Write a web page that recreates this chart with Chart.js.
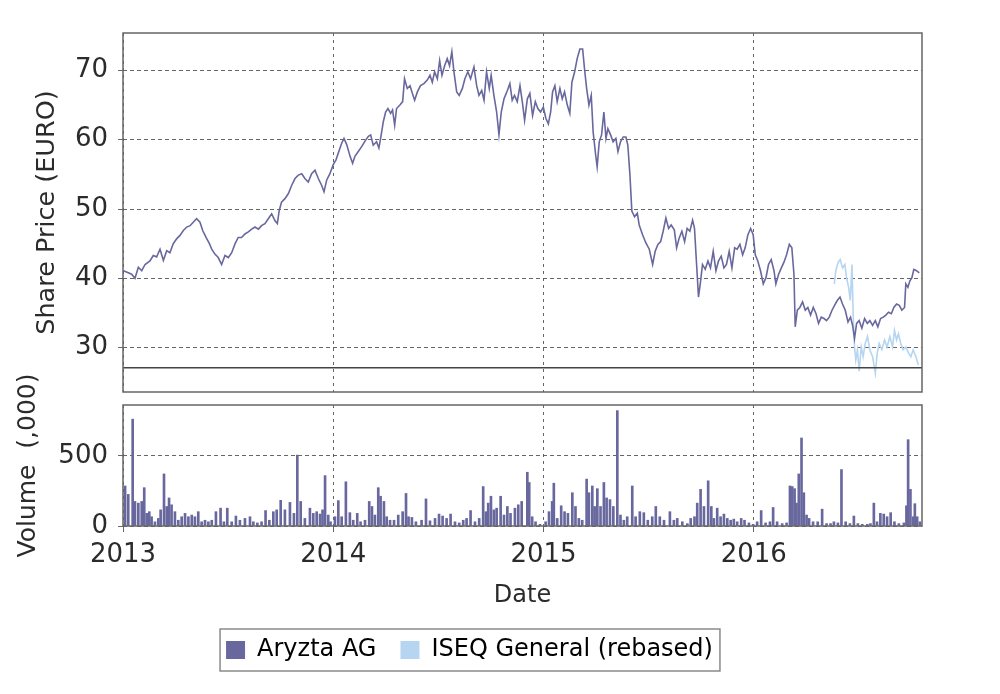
<!doctype html>
<html lang="en">
<head>
<meta charset="utf-8">
<title>Aryzta AG share price and volume</title>
<script src="https://cdn.jsdelivr.net/npm/chart.js"></script>
<style>
  body { margin: 0; background: #fff; }
  #wrap { position: relative; width: 1000px; height: 694px; }
  #wrap canvas { position: absolute; left: 0; }
  #priceChart { top: 0; }
  #volumeChart { top: 340px; }
</style>
</head>
<body>
<div id="wrap">
  <canvas id="priceChart" width="1000" height="400"></canvas>
  <canvas id="volumeChart" width="1000" height="354"></canvas>
</div>
<script>
// ---- data ----
// [fractional year, share price in EURO]
const aryztaPrice = [
  [2013.002,41.1],[2013.017,40.9],[2013.041,40.6],[2013.057,40.0],[2013.073,41.6],[2013.089,41.1],[2013.105,42.0],[2013.128,42.5],
  [2013.144,43.3],[2013.160,43.1],[2013.176,44.2],[2013.192,42.6],[2013.208,44.0],[2013.223,43.7],[2013.239,45.0],[2013.255,45.7],
  [2013.271,46.2],[2013.287,46.9],[2013.303,47.4],[2013.319,47.6],[2013.334,48.1],[2013.350,48.6],[2013.366,48.1],[2013.379,46.9],
  [2013.395,45.9],[2013.411,45.0],[2013.422,44.2],[2013.437,43.5],[2013.453,43.0],[2013.469,42.0],[2013.485,43.3],[2013.501,43.0],
  [2013.517,43.7],[2013.533,45.0],[2013.548,45.9],[2013.564,45.9],[2013.580,46.4],[2013.596,46.7],[2013.612,47.1],[2013.628,47.4],
  [2013.644,47.1],[2013.659,47.6],[2013.675,47.9],[2013.691,48.6],[2013.707,49.3],[2013.723,48.3],[2013.734,47.9],[2013.743,49.8],
  [2013.754,51.0],[2013.770,51.5],[2013.786,52.2],[2013.802,53.4],[2013.818,54.4],[2013.834,54.9],[2013.850,55.1],[2013.865,54.4],
  [2013.881,53.9],[2013.897,55.1],[2013.913,55.6],[2013.929,54.4],[2013.945,53.4],[2013.956,52.5],[2013.969,54.2],[2013.984,55.1],
  [2014.000,56.4],[2014.013,57.1],[2014.024,58.1],[2014.040,59.5],[2014.051,60.2],[2014.064,59.3],[2014.080,57.6],[2014.092,56.6],
  [2014.103,57.6],[2014.119,58.3],[2014.135,59.0],[2014.151,59.8],[2014.167,60.5],
  [2014.178,60.7],[2014.190,59.2],[2014.206,59.7],[2014.217,58.8],[2014.228,60.7],[2014.238,62.6],[2014.249,64.0],[2014.260,64.5],
  [2014.273,63.8],[2014.282,64.3],[2014.292,62.1],[2014.301,64.5],[2014.317,65.0],[2014.330,65.5],[2014.339,68.8],[2014.352,67.4],
  [2014.365,67.8],[2014.376,66.7],[2014.387,65.7],[2014.400,66.9],[2014.415,67.8],[2014.431,68.1],[2014.447,68.6],[2014.460,69.3],
  [2014.471,68.3],[2014.482,69.8],[2014.495,68.8],[2014.506,71.4],[2014.517,69.3],[2014.530,70.7],[2014.542,71.7],[2014.553,70.7],
  [2014.564,72.7],[2014.574,69.8],[2014.587,66.9],[2014.599,66.4],[2014.614,67.4],[2014.626,68.8],[2014.640,69.8],[2014.653,68.8],
  [2014.669,70.5],[2014.682,67.8],[2014.693,66.4],[2014.706,67.1],[2014.717,65.7],[2014.729,69.8],[2014.742,67.4],[2014.751,69.3],
  [2014.764,66.4],[2014.777,64.0],[2014.788,60.7],[2014.799,64.0],[2014.812,65.9],[2014.828,67.1],[2014.840,68.1],[2014.851,65.7],
  [2014.862,66.4],[2014.875,65.5],[2014.888,67.8],[2014.899,65.5],[2014.910,62.8],[2014.923,65.9],[2014.935,66.7],[2014.948,63.5],
  [2014.961,65.5],[2014.973,64.5],[2014.986,64.0],[2014.999,64.7],[2015.011,63.1],[2015.023,62.3],[2015.034,64.0],[2015.043,66.9],
  [2015.054,67.8],[2015.065,65.5],[2015.078,67.4],[2015.089,65.9],[2015.100,66.9],[2015.113,65.0],[2015.125,63.8],[2015.135,68.3],
  [2015.148,69.8],[2015.160,71.7],[2015.173,73.1],[2015.186,73.1],[2015.195,70.2],[2015.205,67.4],[2015.216,65.0],[2015.227,66.4],
  [2015.236,61.1],[2015.248,57.8],[2015.255,56.1],[2015.265,59.7],[2015.276,60.7],[2015.287,64.0],[2015.297,60.2],[2015.306,61.6],
  [2015.319,60.7],[2015.331,59.7],[2015.344,60.2],[2015.354,58.3],[2015.366,59.7],[2015.379,60.4],[2015.392,60.4],[2015.401,59.2],
  [2015.411,54.9],[2015.420,49.7],[2015.433,48.9],[2015.446,49.4],
  [2015.455,47.7],[2015.471,46.3],[2015.487,45.1],[2015.503,44.2],[2015.519,42.0],[2015.531,43.9],[2015.544,44.9],[2015.557,45.3],
  [2015.569,46.8],[2015.582,48.7],[2015.595,47.2],[2015.607,47.7],[2015.622,47.0],[2015.633,44.4],[2015.645,45.8],[2015.658,46.8],
  [2015.671,45.3],[2015.683,47.2],[2015.696,46.8],[2015.709,48.4],[2015.718,47.2],[2015.728,42.0],[2015.737,37.3],[2015.747,39.6],
  [2015.756,42.0],[2015.769,41.3],[2015.782,42.5],[2015.794,41.5],[2015.807,43.9],[2015.820,41.1],[2015.832,42.5],[2015.845,43.2],
  [2015.858,41.5],[2015.870,42.0],[2015.883,43.9],[2015.896,41.5],[2015.909,44.4],[2015.921,44.2],[2015.934,44.9],[2015.947,43.4],
  [2015.959,44.4],[2015.972,46.3],[2015.985,47.2],[2015.997,46.3],[2016.007,43.4],[2016.019,42.5],[2016.032,41.1],[2016.045,39.2],
  [2016.058,40.1],[2016.070,42.0],[2016.083,42.7],[2016.096,41.1],[2016.105,39.2],[2016.118,40.6],[2016.131,41.5],[2016.143,42.3],
  [2016.156,43.4],[2016.169,44.9],[2016.181,44.4],[2016.191,40.6],[2016.197,33.0],[2016.207,35.4],[2016.219,35.8],[2016.232,36.6],
  [2016.245,35.4],[2016.257,35.8],[2016.270,34.7],[2016.283,35.8],[2016.296,34.9],[2016.308,33.5],[2016.321,34.4],[2016.334,34.2],
  [2016.346,33.9],[2016.359,34.4],[2016.372,35.4],[2016.384,36.1],[2016.397,36.8],[2016.410,37.3],[2016.422,36.3],[2016.435,35.4],
  [2016.448,33.7],[2016.460,34.4],[2016.470,33.2],[2016.479,31.3],[2016.489,33.5],[2016.501,33.9],[2016.514,32.8],[2016.527,34.2],
  [2016.540,33.5],[2016.552,33.9],[2016.565,33.2],[2016.578,33.9],[2016.590,33.0],[2016.603,34.2],[2016.616,34.4],[2016.628,34.7],
  [2016.641,35.1],[2016.654,34.9],[2016.666,35.8],[2016.679,36.3],[2016.692,36.1],[2016.704,35.4],[2016.717,35.8],[2016.723,39.2],
  [2016.733,38.7],[2016.742,39.6],[2016.752,40.1],[2016.761,41.3],[2016.774,41.1],[2016.787,40.8]
];

// [fractional year, ISEQ General rebased to the share price]
const iseqRebased = [
  [2016.383,39.2],[2016.390,41.1],[2016.401,42.3],[2016.411,42.7],[2016.422,41.5],[2016.433,42.0],[2016.441,40.1],[2016.451,38.7],
  [2016.459,36.8],[2016.467,42.0],[2016.473,34.4],[2016.479,30.1],[2016.485,28.2],[2016.493,29.7],[2016.501,26.6],[2016.511,30.1],
  [2016.520,28.7],[2016.530,30.6],[2016.541,31.6],[2016.552,29.7],[2016.565,28.7],[2016.578,26.3],[2016.587,29.2],[2016.596,30.6],
  [2016.609,29.7],[2016.622,31.1],[2016.634,30.1],[2016.647,31.6],[2016.660,30.1],[2016.669,32.5],[2016.679,31.1],[2016.688,32.0],
  [2016.699,30.6],[2016.710,29.7],[2016.723,30.1],[2016.736,29.2],[2016.747,28.7],[2016.758,29.7],[2016.771,28.7],[2016.783,27.5]
];

// [fractional year, volume in thousands]
const aryztaVolume = [
  [2013.010,285],[2013.025,225],[2013.046,761],[2013.057,175],[2013.073,163],[2013.089,175],[2013.101,273],[2013.113,90],
  [2013.125,102],[2013.136,66],[2013.152,30],[2013.168,54],[2013.179,115],[2013.195,371],[2013.208,139],[2013.219,200],
  [2013.231,151],[2013.247,102],[2013.263,41],[2013.279,66],[2013.295,90],[2013.311,66],[2013.327,78],[2013.342,66],
  [2013.358,102],[2013.374,30],[2013.390,41],[2013.406,30],[2013.422,41],[2013.442,102],[2013.464,127],[2013.480,30],
  [2013.496,127],[2013.517,30],[2013.537,71],[2013.556,41],[2013.580,54],[2013.604,66],[2013.620,30],[2013.639,22],
  [2013.659,30],[2013.678,110],[2013.696,41],[2013.715,102],[2013.731,115],[2013.750,183],[2013.770,115],[2013.794,168],
  [2013.813,90],[2013.829,505],[2013.845,175],[2013.865,54],[2013.889,127],[2013.905,90],[2013.921,102],[2013.937,85],
  [2013.949,115],[2013.961,359],[2013.976,78],[2013.987,30],[2014.008,66],[2014.024,181],[2014.040,66],[2014.060,315],
  [2014.079,95],[2014.095,41],[2014.114,90],[2014.130,30],[2014.151,41],[2014.171,175],[2014.184,139],[2014.198,78],
  [2014.214,273],[2014.225,212],[2014.241,175],[2014.254,66],[2014.270,41],[2014.289,41],[2014.309,78],[2014.330,102],
  [2014.346,232],[2014.358,66],[2014.374,61],[2014.393,30],[2014.420,41],[2014.441,193],[2014.460,37],[2014.484,54],
  [2014.503,85],[2014.520,71],[2014.539,54],[2014.558,85],[2014.579,30],[2014.599,22],[2014.618,41],[2014.634,54],
  [2014.653,110],[2014.674,30],[2014.694,54],[2014.713,281],[2014.726,102],[2014.737,163],[2014.750,212],[2014.764,115],
  [2014.777,127],[2014.796,212],[2014.812,78],[2014.828,139],[2014.843,90],[2014.864,127],[2014.880,151],[2014.896,175],
  [2014.923,383],[2014.932,310],[2014.946,66],[2014.962,30],[2014.983,12],[2015.010,30],[2015.026,102],[2015.041,175],
  [2015.049,305],[2015.065,54],[2015.084,144],[2015.100,102],[2015.116,90],[2015.137,237],[2015.152,139],[2015.168,54],
  [2015.184,41],[2015.205,334],[2015.216,237],[2015.232,285],[2015.243,139],[2015.256,266],[2015.271,139],[2015.287,310],
  [2015.300,200],[2015.316,188],[2015.332,139],[2015.351,822],[2015.366,78],[2015.382,41],[2015.398,66],[2015.422,285],
  [2015.438,66],[2015.458,102],[2015.477,95],[2015.496,41],[2015.517,66],[2015.534,139],[2015.553,66],[2015.573,41],
  [2015.601,102],[2015.620,41],[2015.636,54],[2015.660,30],[2015.684,17],[2015.700,54],[2015.718,66],[2015.731,163],
  [2015.747,261],[2015.763,139],[2015.783,322],[2015.798,139],[2015.810,54],[2015.826,127],[2015.842,66],[2015.858,85],
  [2015.874,54],[2015.890,41],[2015.905,49],[2015.921,30],[2015.940,54],[2015.956,41],[2015.977,22],[2015.997,12],
  [2016.016,30],[2016.035,110],[2016.056,22],[2016.077,30],[2016.092,132],[2016.111,30],[2016.135,17],[2016.156,22],
  [2016.172,285],[2016.183,281],[2016.194,266],[2016.203,163],[2016.214,371],[2016.227,627],[2016.238,237],[2016.251,78],
  [2016.263,54],[2016.282,30],[2016.304,30],[2016.325,120],[2016.346,17],[2016.365,17],[2016.381,30],[2016.400,22],
  [2016.417,402],[2016.437,30],[2016.457,17],[2016.476,71],[2016.495,17],[2016.516,12],[2016.540,12],[2016.555,17],
  [2016.571,163],[2016.586,30],[2016.602,90],[2016.618,85],[2016.634,66],[2016.651,95],[2016.669,30],[2016.690,17],
  [2016.714,22],[2016.726,144],[2016.734,615],[2016.745,261],[2016.758,66],[2016.766,159],[2016.777,66],[2016.790,30]
];

const yearTicks = [2013, 2014, 2015, 2016];
const priceTicks = [30, 40, 50, 60, 70];
const volumeTicks = [0, 500];
const priceFloorLevel = 27.1;   // solid rule drawn across the price panel
const legendLabels = ['Aryzta AG', 'ISEQ General (rebased)'];

// ---- styles ----
const ARYZTA = '#68689e';
const ISEQ = '#b6d5f0';
const GRID = 'rgba(85,85,85,0.9)';
const FRAME = '#666';
const TEXT = '#2b2b2b';
const FONT = 'DejaVu Sans';

const toPoints = rows => rows.map(r => ({ x: r[0], y: r[1] }));
const setTicks = list => scale => { scale.ticks = list.map(v => ({ value: v })); };
// fixed axis size, and no extra room reserved for edge labels
const fixSize = (prop, size) => scale => {
  scale[prop] = size;
  scale.paddingTop = scale.paddingBottom = scale.paddingLeft = scale.paddingRight = 0;
};

const framePlugin = {
  id: 'frame',
  afterDraw(chart) {
    const { ctx, chartArea: a } = chart;
    ctx.save();
    ctx.strokeStyle = FRAME;
    ctx.lineWidth = 1.5;
    ctx.strokeRect(a.left, a.top, a.right - a.left, a.bottom - a.top);
    ctx.restore();
  }
};

const floorLinePlugin = {
  id: 'floorLine',
  afterDatasetsDraw(chart) {
    const { ctx, chartArea: a } = chart;
    const y = chart.scales.y.getPixelForValue(priceFloorLevel);
    ctx.save();
    ctx.strokeStyle = '#444';
    ctx.lineWidth = 1.5;
    ctx.beginPath();
    ctx.moveTo(a.left, y);
    ctx.lineTo(a.right, y);
    ctx.stroke();
    ctx.restore();
  }
};

const legendBoxPlugin = {
  id: 'legendBox',
  afterDraw(chart) {
    const boxes = chart.legend && chart.legend.legendHitBoxes;
    if (!boxes || !boxes.length) return;
    const left = Math.min(...boxes.map(b => b.left)) - 6;
    const right = Math.max(...boxes.map(b => b.left + b.width)) + 7;
    const top = boxes[0].top - 9;
    const bottom = boxes[0].top + boxes[0].height + 9;
    const ctx = chart.ctx;
    ctx.save();
    ctx.strokeStyle = '#8a8a8a';
    ctx.lineWidth = 1.5;
    ctx.strokeRect(left, top, right - left, bottom - top);
    ctx.restore();
  }
};

// ---- price panel ----
new Chart(document.getElementById('priceChart'), {
  type: 'line',
  data: {
    datasets: [
      { label: legendLabels[0], data: toPoints(aryztaPrice), borderColor: ARYZTA, borderWidth: 1.6,
        pointRadius: 0, tension: 0, order: 0 },
      { label: legendLabels[1], data: toPoints(iseqRebased), borderColor: ISEQ, borderWidth: 1.6,
        pointRadius: 0, tension: 0, order: 1 }
    ]
  },
  options: {
    responsive: false,
    animation: false,
    layout: { padding: { top: 33, right: 78, bottom: 8, left: 0 } },
    plugins: { legend: { display: false }, tooltip: { enabled: false } },
    scales: {
      x: {
        type: 'linear', min: 2013, max: 2016.8, offset: false,
        afterBuildTicks: setTicks(yearTicks),
        afterFit: fixSize('height', 0),
        ticks: { display: false },
        grid: { color: GRID, drawTicks: false },
        border: { display: false, dash: [3, 4] }
      },
      y: {
        min: 23.6, max: 75.4,
        afterBuildTicks: setTicks(priceTicks),
        afterFit: fixSize('width', 123),
        ticks: { font: { family: FONT, size: 26 }, color: TEXT, padding: 10, callback: v => String(v) },
        grid: { color: GRID, tickLength: 5, tickColor: FRAME },
        border: { display: false, dash: [4, 3] },
        title: { display: true, text: 'Share Price (EURO)', color: TEXT,
                 font: { family: FONT, size: 25.5 }, padding: { top: 32, bottom: 0 } }
      }
    }
  },
  plugins: [floorLinePlugin, framePlugin]
});

// ---- volume panel ----
new Chart(document.getElementById('volumeChart'), {
  type: 'bar',
  data: {
    datasets: [
      { label: legendLabels[0], data: toPoints(aryztaVolume), backgroundColor: ARYZTA, barThickness: 2 }
    ]
  },
  options: {
    responsive: false,
    animation: false,
    layout: { padding: { top: 65, right: 78, bottom: 22, left: 17 } },
    plugins: {
      tooltip: { enabled: false },
      legend: {
        position: 'bottom',
        labels: {
          boxWidth: 19, boxHeight: 18, padding: 24, color: TEXT,
          font: { family: FONT, size: 24 },
          generateLabels: () => legendLabels.map((text, i) => ({
            text, fillStyle: [ARYZTA, ISEQ][i], strokeStyle: [ARYZTA, ISEQ][i],
            lineWidth: 0, hidden: false, datasetIndex: 0
          }))
        }
      }
    },
    scales: {
      x: {
        type: 'linear', min: 2013, max: 2016.8, offset: false,
        afterBuildTicks: setTicks(yearTicks),
        afterFit: fixSize('height', 88),
        ticks: { font: { family: FONT, size: 26 }, color: TEXT, padding: 8, maxRotation: 0,
                 autoSkip: false, callback: v => String(v) },
        grid: { color: GRID, tickLength: 6, tickColor: FRAME, offset: false },
        border: { display: false, dash: [3, 4] },
        title: { display: true, text: 'Date', color: TEXT,
                 font: { family: FONT, size: 24 }, padding: { top: 0, bottom: 4 } }
      },
      y: {
        min: 0, max: 862,
        afterBuildTicks: setTicks(volumeTicks),
        afterFit: fixSize('width', 106),
        ticks: { font: { family: FONT, size: 26 }, color: TEXT, padding: 10, callback: v => String(v) },
        grid: { color: GRID, tickLength: 5, tickColor: FRAME },
        border: { display: false, dash: [4, 3] },
        title: { display: true, text: 'Volume  (,000)', color: TEXT,
                 font: { family: FONT, size: 25 }, padding: { top: -4, bottom: 0 } }
      }
    }
  },
  plugins: [framePlugin, legendBoxPlugin]
});
</script>
</body>
</html>
